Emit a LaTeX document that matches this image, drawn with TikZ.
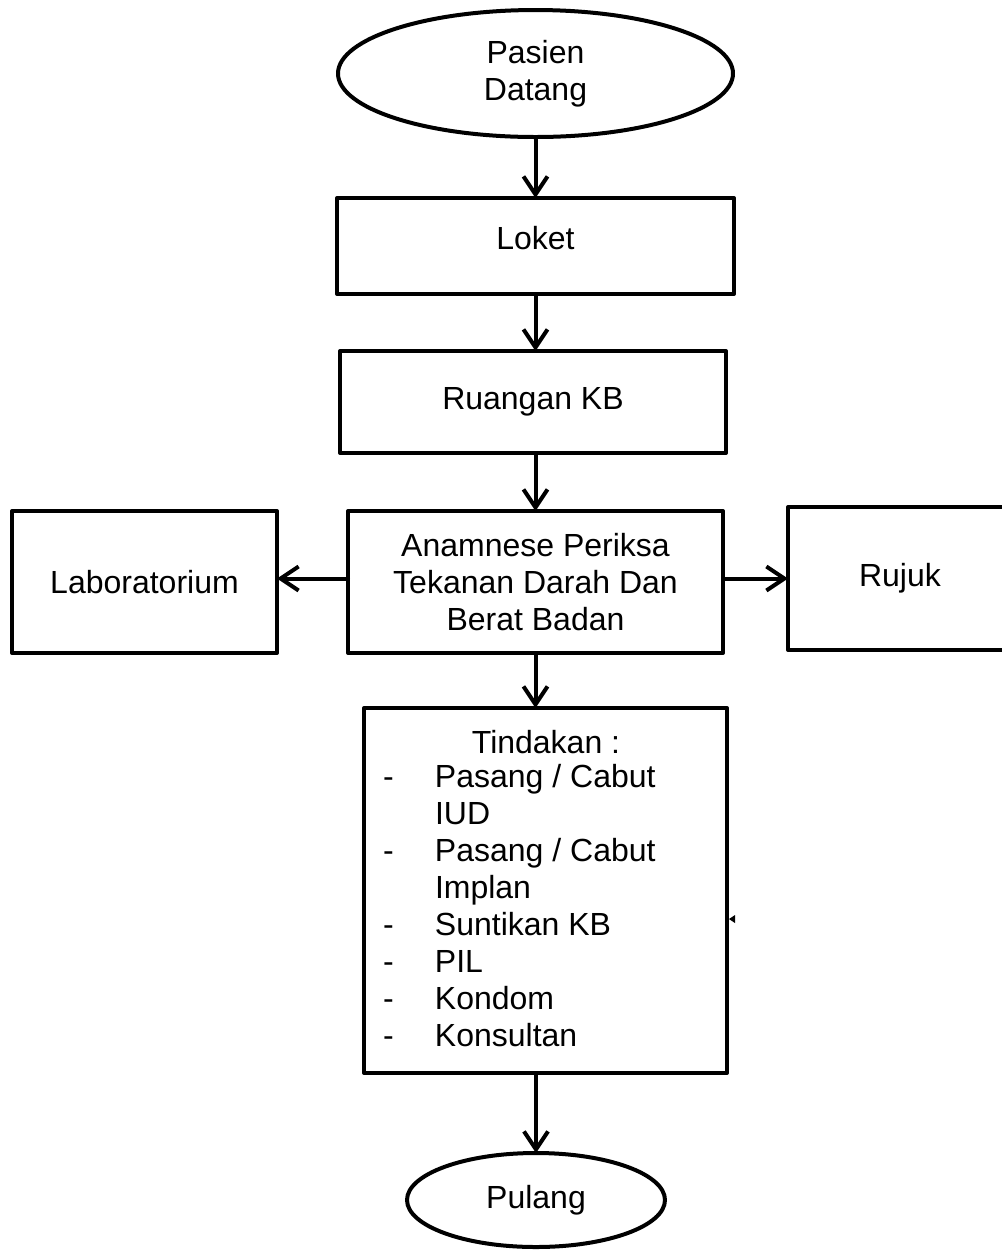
\documentclass[tikz,border=0pt]{standalone}
\usepackage{fontspec}
\setmainfont{Liberation Sans}
\usetikzlibrary{arrows.meta,shapes.geometric}

\begin{document}
\begin{tikzpicture}[line cap=round,line join=round,>={Straight Barb[length=9pt,width=12pt]},x=0.5pt,y=-0.5pt,
  txt/.style={inner sep=0pt,outer sep=0pt,font=\fontsize{16}{18.5}\selectfont},
  box/.style={txt,draw,line width=2pt,rectangle,align=center},
  oval/.style={txt,draw,line width=2pt,ellipse,align=center},
  flow/.style={->,line width=2pt}]
\clip (0,0) rectangle (1002,1255);
\node[oval,minimum width=197.5pt,minimum height=63.5pt] (pasien) at (535.5,73.5) {Pasien\\Datang};
\node[box,minimum width=198.5pt,minimum height=48pt,text depth=8pt] (loket) at (535.5,246) {Loket};
\node[box,minimum width=193pt,minimum height=51pt] (ruangan) at (533,402) {Ruangan KB};
\node[box,minimum width=187.5pt,minimum height=71pt] (anamnese) at (535.5,582) {Anamnese Periksa\\Tekanan Darah Dan\\Berat Badan};
\node[box,minimum width=132.5pt,minimum height=71pt] (lab) at (144.5,582) {Laboratorium};
\node[box,minimum width=112pt,minimum height=71.5pt] (rujuk) at (900,578.5) {Rujuk};
\node[box,minimum width=181.5pt,minimum height=182.5pt] (tindakan) at (545.5,890.5) {};
\node[txt] (tindhead) at (546,742) {Tindakan :};
\node[txt,anchor=north west,align=left] (tindlist) at (383,764) {%
\makebox[26pt][l]{-}Pasang / Cabut\\
\hspace*{26pt}IUD\\
\makebox[26pt][l]{-}Pasang / Cabut\\
\hspace*{26pt}Implan\\
\makebox[26pt][l]{-}Suntikan KB\\
\makebox[26pt][l]{-}PIL\\
\makebox[26pt][l]{-}Kondom\\
\makebox[26pt][l]{-}Konsultan};
\node[oval,minimum width=129pt,minimum height=47pt] (pulang) at (536,1200) {Pulang};

\draw[flow] (pasien.south) -- (pasien.south |- loket.north);
\draw[flow] (loket.south) -- (loket.south |- ruangan.north);
\draw[flow] (loket.south |- ruangan.south) -- (loket.south |- anamnese.north);
\draw[flow] (anamnese.west |- rujuk) -- (lab.east |- rujuk);
\draw[flow] (anamnese.east |- rujuk) -- (rujuk.west);
\draw[flow] (anamnese.south) -- (anamnese.south |- tindakan.north);
\draw[flow] (pulang.north |- tindakan.south) -- (pulang.north);
\fill (729,919) -- (735,915) -- (735,923) -- cycle;
\end{tikzpicture}
\end{document}
